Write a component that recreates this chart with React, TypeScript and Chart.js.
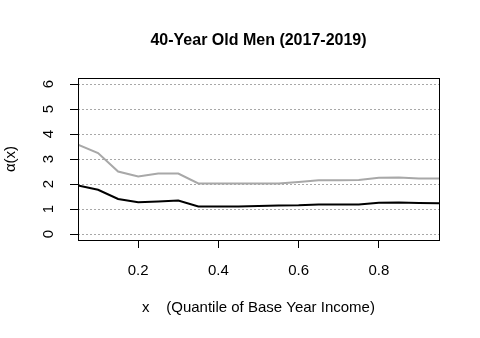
import React, { useEffect, useRef } from "react";
import { Chart, registerables } from "chart.js";

Chart.register(...registerables);

const quantiles = [0.05, 0.1, 0.15, 0.2, 0.25, 0.3, 0.35, 0.4, 0.45, 0.5, 0.55, 0.6, 0.65, 0.7, 0.75, 0.8, 0.85, 0.9, 0.95];
const upperSeries = [3.57, 3.24, 2.5, 2.3, 2.42, 2.42, 2.02, 2.02, 2.02, 2.02, 2.02, 2.08, 2.15, 2.15, 2.16, 2.25, 2.26, 2.22, 2.22];
const lowerSeries = [1.94, 1.77, 1.4, 1.27, 1.3, 1.34, 1.1, 1.1, 1.1, 1.12, 1.14, 1.15, 1.18, 1.18, 1.18, 1.25, 1.26, 1.24, 1.23];
const xTickValues = [0.2, 0.4, 0.6, 0.8];
const yTickValues = [0, 1, 2, 3, 4, 5, 6];
const titleText = "40-Year Old Men (2017-2019)";
const xTitle = "x    (Quantile of Base Year Income)";
const yTitle = "\u03b1(x)";

const FONT = "'Liberation Sans', Arial, sans-serif";

const boxPlugin = {
  id: "rbox",
  afterDraw(chart: any) {
    const { ctx, chartArea: a, scales } = chart;
    ctx.save();
    ctx.strokeStyle = "#000";
    ctx.lineWidth = 1;
    const l = Math.round(a.left) + 0.5;
    const t = Math.round(a.top) + 0.5;
    const r = Math.round(a.right) + 0.5;
    const b = Math.round(a.bottom) + 0.5;
    ctx.strokeRect(l, t, r - l, b - t);
    // title centred over the plot region
    ctx.fillStyle = "#000";
    ctx.font = `bold 16px ${FONT}`;
    ctx.textAlign = "center";
    ctx.textBaseline = "middle";
    ctx.fillText(titleText, (a.left + a.right) / 2, 41);
    // rotated y tick labels
    const ys = scales.y;
    ctx.font = `15px ${FONT}`;
    ys.ticks.forEach((tk: any) => {
      const py = ys.getPixelForValue(tk.value);
      ctx.save();
      ctx.translate(49, py);
      ctx.rotate(-Math.PI / 2);
      ctx.fillText(String(tk.value), 0, 0);
      ctx.restore();
    });
    ctx.restore();
  },
};

export default function App() {
  const ref = useRef<HTMLCanvasElement>(null);
  useEffect(() => {
    if (!ref.current) return;
    const chart = new Chart(ref.current, {
      type: "line",
      data: {
        datasets: [
          {
            data: quantiles.map((q, i) => ({ x: q, y: upperSeries[i] })),
            borderColor: "#a8a8a8",
            borderWidth: 2,
            pointRadius: 0,
            tension: 0,
          },
          {
            data: quantiles.map((q, i) => ({ x: q, y: lowerSeries[i] })),
            borderColor: "#000000",
            borderWidth: 2,
            pointRadius: 0,
            tension: 0,
          },
        ],
      },
      options: {
        responsive: false,
        animation: false,
        events: [],
        layout: { padding: { left: 0, right: 41, top: 78, bottom: 0 } },
        plugins: {
          legend: { display: false },
          tooltip: { enabled: false },
          title: { display: false },
        },
        scales: {
          x: {
            type: "linear",
            min: 0.05,
            max: 0.95,
            afterBuildTicks: (s: any) => {
              s.ticks = xTickValues.map((v) => ({ value: v }));
            },
            afterFit: (s: any) => {
              s.height = 98;
            },
            grid: {
              drawOnChartArea: false,
              drawTicks: true,
              tickLength: 8,
              tickColor: "#000",
              tickWidth: 1,
              tickBorderDash: [],
            },
            border: { display: false },
            ticks: {
              color: "#000",
              font: { family: FONT, size: 15 },
              padding: 14,
              maxRotation: 0,
              callback: (v: any) => Number(v).toFixed(1),
            },
            title: {
              display: true,
              text: xTitle,
              color: "#000",
              font: { family: FONT, size: 15, lineHeight: 1.2 },
              padding: { top: 0, bottom: 21.3 },
            },
          },
          y: {
            type: "linear",
            min: -0.24,
            max: 6.24,
            afterBuildTicks: (s: any) => {
              s.ticks = yTickValues.map((v) => ({ value: v }));
            },
            afterFit: (s: any) => {
              s.width = 78;
            },
            grid: {
              color: "#a8a8a8",
              lineWidth: 1,
              drawTicks: true,
              tickLength: 8,
              tickColor: "#000",
              tickBorderDash: [],
              tickWidth: 1,
            },
            border: { display: false, dash: [2, 2] },
            ticks: { display: false },
            title: {
              display: true,
              text: yTitle,
              color: "#000",
              font: { family: FONT, size: 15, lineHeight: 1.2 },
              padding: { top: 1.5, bottom: 0 },
            },
          },
        },
      },
      plugins: [boxPlugin],
    } as any);
    return () => chart.destroy();
  }, []);
  return (
    <div style={{ position: "fixed", left: 0, top: 0, width: 480, height: 338, background: "#fff" }}>
      <canvas ref={ref} width={480} height={338} style={{ display: "block" }} />
    </div>
  );
}
